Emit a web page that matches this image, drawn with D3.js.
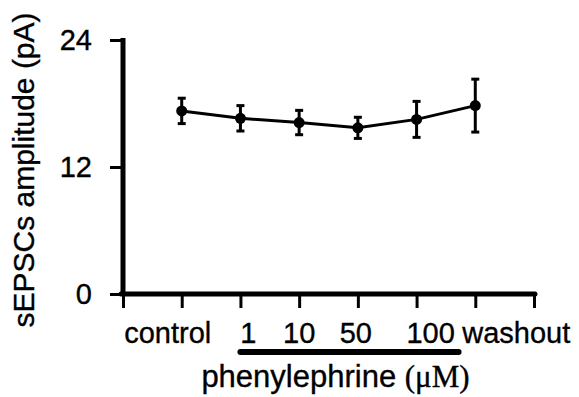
<!DOCTYPE html>
<html>
<head>
<meta charset="utf-8">
<script src="https://cdn.jsdelivr.net/npm/d3@7"></script>
<style>
  body { margin: 0; background: #fff; }
  text { font-family: "Liberation Sans", Arial, sans-serif; fill: #000; stroke: #000; stroke-width: 0.35px; }
</style>
</head>
<body>
<div id="chart"></div>
<script>
// Conditions and sEPSC amplitude (pA), mean +/- error
const conditions = ["control", "1", "10", "50", "100", "washout"];
const amplitude = [17.3, 16.6, 16.2, 15.7, 16.5, 17.8];
const errorBar = [1.2, 1.2, 1.15, 1.0, 1.7, 2.5];
const yTicks = [0, 12, 24];
// the drug bar spans these conditions
const drugConditions = ["1", "100"];

const width = 579, height = 397;
const svg = d3.select("#chart").append("svg")
  .attr("width", width)
  .attr("height", height);

// slot 0 is the axis origin, conditions sit on slots 1..6, slot 7 is the end
const x = d3.scaleLinear().domain([0, 7]).range([123, 534]);
const y = d3.scaleLinear().domain([0, 24]).range([294, 40]);
const slot = c => x(conditions.indexOf(c) + 1);

// Y axis
const yAxis = svg.append("g")
  .attr("transform", `translate(${x(0)},0)`)
  .call(d3.axisLeft(y).tickValues(yTicks).tickSize(13).tickPadding(18).tickSizeOuter(0));
yAxis.select(".domain").attr("stroke-width", 5).attr("d", `M0,${y(0) + 2}V${y(24) - 2}`);
yAxis.selectAll(".tick line").attr("stroke-width", 3);
yAxis.selectAll(".tick text").attr("font-size", 29).attr("font-family", "Liberation Sans, Arial");

// X axis (ticks only, labels placed below)
const xAxis = svg.append("g")
  .attr("transform", `translate(0,${y(0)})`)
  .call(d3.axisBottom(x).tickValues(d3.range(0, 8)).tickSize(14).tickFormat("").tickSizeOuter(0));
xAxis.select(".domain").attr("stroke-width", 5).attr("stroke-linecap", "round")
  .attr("d", `M${x(0) - 2},0H${x(7) + 1}`);
xAxis.selectAll(".tick line").attr("stroke-width", 3);

// category labels, shifted as in the original layout
const labelShift = [-14, 8, 0, -2, 14, 41];
svg.append("g").selectAll("text")
  .data(conditions)
  .join("text")
  .attr("x", (d, i) => slot(d) + labelShift[i])
  .attr("y", 343)
  .attr("text-anchor", "middle")
  .attr("font-size", 29)
  .text(d => d);

// drug bar
svg.append("line")
  .attr("x1", slot(drugConditions[0]))
  .attr("x2", slot(drugConditions[1]) + 42)
  .attr("y1", 352).attr("y2", 352)
  .attr("stroke", "#000")
  .attr("stroke-width", 6)
  .attr("stroke-linecap", "round");

const drugLabel = svg.append("text")
  .attr("x", (slot(drugConditions[0]) + slot(drugConditions[1]) + 42) / 2 - 14)
  .attr("y", 387)
  .attr("text-anchor", "middle")
  .attr("font-size", 31);
drugLabel.append("tspan").text("phenylephrine ");
drugLabel.append("tspan").attr("font-family", "Liberation Serif, Times New Roman, serif").text("(μM)");

// Y axis title
svg.append("text")
  .attr("transform", `translate(34,${170}) rotate(-90)`)
  .attr("text-anchor", "middle")
  .attr("font-size", 30)
  .text("sEPSCs amplitude (pA)");

// Data
const pts = conditions.map((c, i) => ({ c, v: amplitude[i], e: errorBar[i] }));

svg.append("path")
  .datum(pts)
  .attr("fill", "none")
  .attr("stroke", "#000")
  .attr("stroke-width", 3)
  .attr("d", d3.line().x(d => slot(d.c)).y(d => y(d.v)));

const err = svg.append("g").selectAll("g")
  .data(pts)
  .join("g")
  .attr("stroke", "#000")
  .attr("stroke-width", 3);
err.append("line")
  .attr("x1", d => slot(d.c)).attr("x2", d => slot(d.c))
  .attr("y1", d => y(d.v + d.e)).attr("y2", d => y(d.v - d.e));
err.append("line")
  .attr("x1", d => slot(d.c) - 4).attr("x2", d => slot(d.c) + 4)
  .attr("y1", d => y(d.v + d.e)).attr("y2", d => y(d.v + d.e));
err.append("line")
  .attr("x1", d => slot(d.c) - 4).attr("x2", d => slot(d.c) + 4)
  .attr("y1", d => y(d.v - d.e)).attr("y2", d => y(d.v - d.e));

svg.append("g").selectAll("circle")
  .data(pts)
  .join("circle")
  .attr("cx", d => slot(d.c))
  .attr("cy", d => y(d.v))
  .attr("r", 5.5)
  .attr("fill", "#000");
</script>
</body>
</html>
